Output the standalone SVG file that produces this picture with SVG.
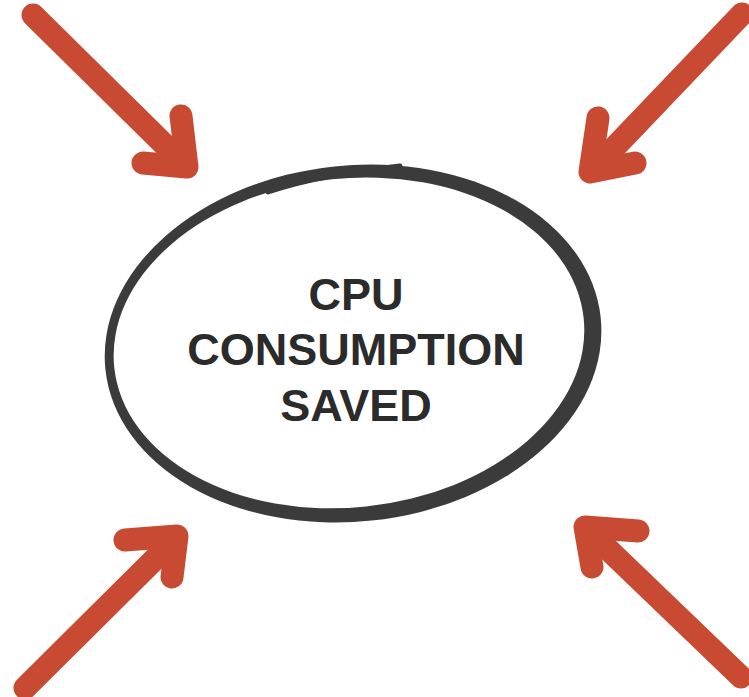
<svg xmlns="http://www.w3.org/2000/svg" width="749" height="697" viewBox="0 0 749 697">
<style>
.arr{fill:none;stroke:#c94a33;stroke-width:23;stroke-linecap:round;stroke-linejoin:round}
.ring{fill:#3b3b3b;fill-rule:evenodd}
.lbl{font-family:"Liberation Sans",Arial,sans-serif;font-weight:bold;font-size:45px;fill:#2b2b2b;text-anchor:middle}
</style>
<rect width="749" height="697" fill="#ffffff"/>
<g id="arrows">
<g id="arrow-tl"><path class="arr" d="M33,15 L186,166"/><path class="arr" d="M181,116 L187,167 L143,163"/></g>
<g id="arrow-tr"><path class="arr" d="M742,14 L592,171"/><path class="arr" d="M598,118 L590,172 L635,163"/></g>
<g id="arrow-bl"><path class="arr" d="M25,688 L175,539"/><path class="arr" d="M125,540 L177,536 L172,577"/></g>
<g id="arrow-br"><path class="arr" d="M741,677 L588,530"/><path class="arr" d="M638,531 L585,527 L592,567"/></g>
</g>
<g id="node-cpu">
<path class="ring" transform="rotate(-6 353 343)" d="M104,343.5 A249,178 0 1 0 602,343.5 A249,178 0 1 0 104,343.5 Z M113,342.5 A236,164.5 0 1 0 585,342.5 A236,164.5 0 1 0 113,342.5 Z"/>
<path d="M268,192 C310,178 350,172 400,166" fill="none" stroke="#3b3b3b" stroke-width="5" stroke-linecap="round"/>
<text class="lbl" x="356" y="310">CPU</text>
<text class="lbl" x="356" y="365">CONSUMPTION</text>
<text class="lbl" x="356" y="421">SAVED</text>
</g>
</svg>
